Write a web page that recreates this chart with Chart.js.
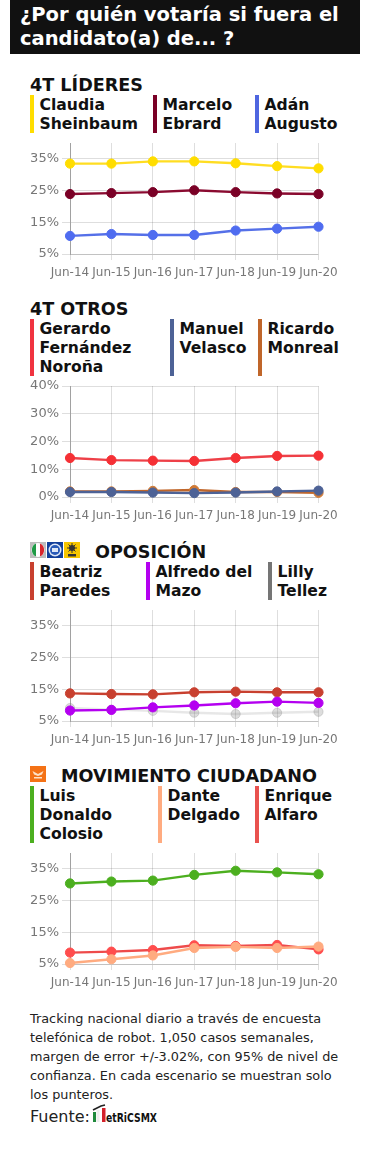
<!DOCTYPE html>
<html><head><meta charset="utf-8">
<script src="https://cdn.jsdelivr.net/npm/chart.js@4"></script>
<style>
html,body{margin:0;padding:0;background:#fff;width:370px;height:1170px;overflow:hidden;font-family:"DejaVu Sans",sans-serif;color:#111}
.abs{position:absolute}
#banner{left:10px;top:0;width:350px;height:54px;background:#111;color:#fff;font-weight:bold;font-size:19.5px;line-height:24px;box-sizing:border-box;padding:3px 0 0 10px;white-space:nowrap}
.sec{font-weight:bold;font-size:17.6px;line-height:22px;white-space:nowrap}
.lg{border-left:4px solid;padding-left:5.5px;padding-top:.7px;font-weight:bold;font-size:15.6px;line-height:19px;box-sizing:border-box;white-space:nowrap}
canvas{position:absolute;left:0}
#note{left:30px;top:1009px;font-size:12.83px;line-height:19px;white-space:nowrap;color:#222}
#src{left:30px;top:1107px;font-size:16px;line-height:20px;color:#222}
</style></head><body>
<div class="abs" id="banner">¿Por quién votaría si fuera el<br>candidato(a) de... ?</div>

<div class="abs sec" style="left:30px;top:74px">4T LÍDERES</div>
<div class="abs lg" style="left:30px;top:95px;height:38px;border-color:#ffdd00">Claudia<br>Sheinbaum</div>
<div class="abs lg" style="left:153px;top:95px;height:38px;border-color:#7a0026">Marcelo<br>Ebrard</div>
<div class="abs lg" style="left:255px;top:95px;height:38px;border-color:#4f66e0">Adán<br>Augusto</div>

<div class="abs sec" style="left:30px;top:298px">4T OTROS</div>
<div class="abs lg" style="left:30px;top:319px;height:57px;border-color:#f03340">Gerardo<br>Fernández<br>Noroña</div>
<div class="abs lg" style="left:170px;top:319px;height:57px;border-color:#4d6296">Manuel<br>Velasco</div>
<div class="abs lg" style="left:258px;top:319px;height:57px;border-color:#c0662a">Ricardo<br>Monreal</div>

<svg class="abs" style="left:30px;top:542px" width="50" height="16" viewBox="0 0 50 16">
<rect width="16" height="16" fill="#bdbdbd"/><ellipse cx="8" cy="8" rx="6.5" ry="7" fill="#fff"/><path d="M6 1.5 A6.5 7 0 0 0 6 14.5 Z" fill="#1f9a46"/><path d="M10 1.5 A6.5 7 0 0 1 10 14.5 Z" fill="#d8262c"/>
<rect x="17" width="16" height="16" fill="#123f9a"/><circle cx="25" cy="8" r="6.5" fill="#dfe8f7"/><circle cx="25" cy="8" r="5" fill="#2a5bb8"/><rect x="22" y="6" width="6" height="4" fill="#dfe8f7"/>
<rect x="34" width="16" height="16" fill="#f7c600"/><circle cx="42" cy="6" r="3" fill="#333"/><path d="M42 1V11M37 6H47M38.5 2.5L45.5 9.5M45.5 2.5L38.5 9.5" stroke="#333" stroke-width="1"/><rect x="38" y="12" width="8" height="2.5" fill="#333"/>
</svg>
<div class="abs sec" style="left:95px;top:541px">OPOSICIÓN</div>
<div class="abs lg" style="left:30px;top:562px;height:38px;border-color:#c8402f">Beatriz<br>Paredes</div>
<div class="abs lg" style="left:146px;top:562px;height:38px;border-color:#b400f0">Alfredo del<br>Mazo</div>
<div class="abs lg" style="left:268px;top:562px;height:38px;border-color:#757575">Lilly<br>Tellez</div>

<svg class="abs" style="left:30px;top:766px" width="16" height="16" viewBox="0 0 16 16">
<rect width="16" height="16" fill="#f47216"/><path d="M2.5 5 L8 8 L13.5 5 L12 8.5 L8 10 L4 8.5 Z" fill="#fde2c8"/><rect x="4" y="11" width="8" height="1.5" fill="#fde2c8"/>
</svg>
<div class="abs sec" style="left:61px;top:765px">MOVIMIENTO CIUDADANO</div>
<div class="abs lg" style="left:30px;top:786px;height:57px;border-color:#4caf1f">Luis<br>Donaldo<br>Colosio</div>
<div class="abs lg" style="left:158px;top:786px;height:57px;border-color:#ffab80">Dante<br>Delgado</div>
<div class="abs lg" style="left:255px;top:786px;height:57px;border-color:#e9524f">Enrique<br>Alfaro</div>

<canvas id="c1"></canvas><canvas id="c2"></canvas><canvas id="c3"></canvas><canvas id="c4"></canvas>

<div class="abs" id="note">Tracking nacional diario a través de encuesta<br>telefónica de robot. 1,050 casos semanales,<br>margen de error +/-3.02%, con 95% de nivel de<br>confianza. En cada escenario se muestran solo<br>los punteros.</div>
<div class="abs" id="src">Fuente:</div>
<svg class="abs" style="left:92px;top:1102px" width="68" height="22" viewBox="0 0 68 22">
<rect x="1" y="10" width="3" height="10" fill="#1f8a3c"/><rect x="4.5" y="8" width="3" height="12" fill="#eee"/><rect x="10" y="6" width="3.5" height="14" fill="#d3202a"/>
<path d="M1 8 L9 4 L13 3" stroke="#222" stroke-width="1.6" fill="none"/>
<text x="14" y="20" font-family="'DejaVu Sans Condensed','DejaVu Sans'" font-weight="bold" font-size="13" textLength="51" lengthAdjust="spacingAndGlyphs" fill="#111">etRiCSMX</text>
</svg>

<script>
const categories=["Jun-14","Jun-15","Jun-16","Jun-17","Jun-18","Jun-19","Jun-20"];

const sheinbaum=[33.5,33.5,34.2,34.2,33.6,32.7,32.0];
const ebrard=[23.9,24.2,24.5,25.1,24.5,24.1,23.9];
const adan=[10.7,11.3,11.0,11.0,12.4,13.0,13.6];

const norona=[14.05,13.3,13.1,13.0,14.05,14.8,14.9];
const monreal=[2.0,2.0,2.2,2.5,1.8,1.8,1.5];
const velasco=[1.8,1.8,1.6,1.4,1.6,2.0,2.3];

const paredes=[13.7,13.5,13.4,14.05,14.26,14.05,14.05];
const mazo=[8.3,8.5,9.3,9.9,10.6,11.1,10.7];
const tellez=[9.1,8.6,8.2,7.6,7.2,7.6,7.9];

const colosio=[30.4,31,31.3,33.1,34.4,33.9,33.3];
const alfaro=[8.6,8.9,9.4,10.9,10.7,11,9.6];
const delgado=[5.3,6.5,7.7,10.05,10.4,10.05,10.5];

const ticksOdd=[5,15,25,35];
const ticksTens=[0,10,20,30,40];

function ds(label,data,line,point){
  return {label,data,borderColor:line,backgroundColor:point,pointBackgroundColor:point,
    pointBorderColor:point,pointBorderWidth:1,pointRadius:4.6,borderWidth:2.4,tension:0,clip:false};
}
function make(id,height,areaTop,areaBottom,min,max,tickVals,sets){
  const top=areaTop-20;
  const c=document.getElementById(id);
  c.width=370;c.height=height;c.style.top=top+'px';c.style.width='370px';c.style.height=height+'px';
  new Chart(c,{type:'line',data:{labels:categories,datasets:sets},options:{
    responsive:false,animation:false,
    layout:{padding:{top:20,right:51.5,left:0,bottom:0}},
    plugins:{legend:{display:false},title:{display:false},tooltip:{enabled:false}},
    scales:{
      x:{offset:false,
        afterFit(s){s.height=top+height-areaBottom;},
        grid:{color:'rgba(0,0,0,0.13)',tickLength:6,drawTicks:true},
        border:{display:true,color:'rgba(0,0,0,0.13)'},
        ticks:{color:'#777',font:{family:'"DejaVu Sans"',size:12},maxRotation:0,minRotation:0,autoSkip:false,padding:6}},
      y:{min,max,
        afterBuildTicks(s){s.ticks=tickVals.map(v=>({value:v}));},
        afterFit(s){s.width=70;},
        grid:{color:'rgba(0,0,0,0.13)',tickLength:8},
        border:{display:true,color:'rgba(0,0,0,0.28)'},
        ticks:{color:'#777',font:{family:'"DejaVu Sans"',size:13},padding:3,callback:v=>v+'%'}}
    }}});
}
make('c1',170,143,254,5,40,ticksOdd,[
  ds('Claudia Sheinbaum',sheinbaum,'#ffdd22','#ffdd00'),
  ds('Marcelo Ebrard',ebrard,'#8a0a30','#7a0026'),
  ds('Adán Augusto',adan,'#5570e8','#4f6cf0')]);
make('c2',170,386,497,0,40,ticksTens,[
  ds('Manuel Velasco',velasco,'#4d6296','#4d6296'),
  ds('Ricardo Monreal',monreal,'#c0662a','#d07a35'),
  ds('Gerardo Fernández Noroña',norona,'#ee4048','#f53035')]);
make('c3',170,610,721,5,40,ticksOdd,[
  ds('Alfredo del Mazo',mazo,'#b400f0','#b400f0'),
  ds('Beatriz Paredes',paredes,'#c8402f','#c8402f'),
  ds('Lilly Tellez',tellez,'rgba(120,120,120,0.18)','rgba(120,120,120,0.25)')]);
make('c4',170,853,964,5,40,ticksOdd,[
  ds('Dante Delgado',delgado,'#ffab80','#ffab80'),
  ds('Enrique Alfaro',alfaro,'#ee4b4b','#ff4d4d'),
  ds('Luis Donaldo Colosio',colosio,'#4caf1f','#4caf1f')]);
</script>
</body></html>
